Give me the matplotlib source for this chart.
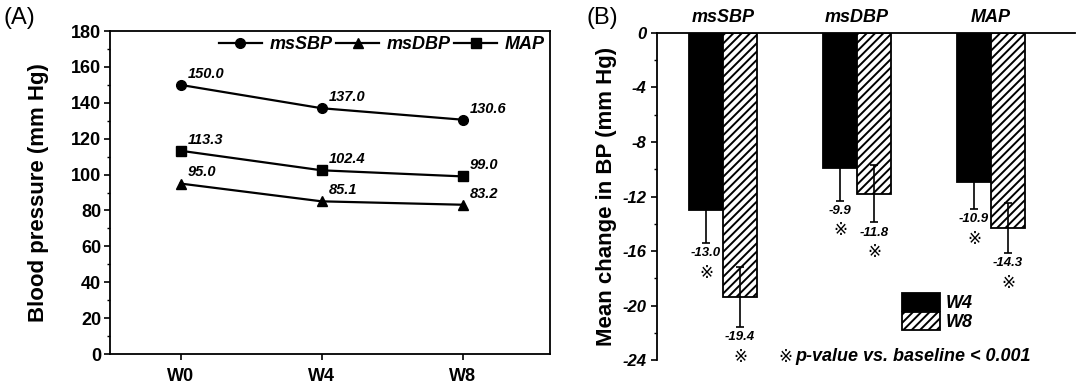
import numpy as np
import matplotlib
matplotlib.use('Agg')
import matplotlib.pyplot as plt
from matplotlib.patches import Patch
from matplotlib.ticker import MultipleLocator

plt.rcParams['font.family'] = ['Liberation Sans', 'DejaVu Sans']
plt.rcParams['hatch.linewidth'] = 1.4

# panel A data
weeks = ['W0', 'W4', 'W8']
ms_sbp = [150.0, 137.0, 130.6]
ms_dbp = [95.0, 85.1, 83.2]
map_bp = [113.3, 102.4, 99.0]

# panel B data
groups = ['msSBP', 'msDBP', 'MAP']
chg_w4 = [-13.0, -9.9, -10.9]
chg_w8 = [-19.4, -11.8, -14.3]
err_w4 = [2.4, 2.4, 2.0]
err_w8 = [2.2, 2.1, 1.85]

fig = plt.figure(figsize=(10.8, 3.9), dpi=100)

# ---------- panel A ----------
ax1 = fig.add_axes([0.1019, 0.0923, 0.4074, 0.828])
x = np.arange(len(weeks))
series = [(ms_sbp, 'o', 'msSBP'), (ms_dbp, '^', 'msDBP'), (map_bp, 's', 'MAP')]
for vals, mk, name in series:
    ax1.plot(x, vals, color='black', lw=1.6, marker=mk, ms=7, label=name)
    for xi, v in zip(x, vals):
        ax1.annotate(f'{v:.1f}', (xi, v), xytext=(5, 3), textcoords='offset points',
                     ha='left', va='bottom', fontsize=10.5, fontweight='bold', style='italic')

ax1.set_xlim(-0.5, 2.62)
ax1.set_ylim(0, 180)
ax1.set_xticks(x)
ax1.set_xticklabels(weeks, fontsize=13, fontweight='bold')
ax1.yaxis.set_major_locator(MultipleLocator(20))
ax1.yaxis.set_minor_locator(MultipleLocator(10))
ax1.tick_params(axis='y', which='major', length=4.5, width=1.2, labelsize=13, pad=2)
ax1.tick_params(axis='y', which='minor', length=2.5, width=1.0)
ax1.tick_params(axis='x', length=4, width=1.2, pad=6)
for lab in ax1.get_yticklabels():
    lab.set_fontweight('bold')
for sp in ax1.spines.values():
    sp.set_linewidth(1.3)
ax1.set_ylabel('Blood pressure (mm Hg)', fontsize=16, fontweight='bold', labelpad=16)
ax1.legend(loc='upper right', bbox_to_anchor=(1.0, 1.0), ncol=3, frameon=False,
           prop={'size': 13, 'weight': 'bold', 'style': 'italic'},
           handlelength=2.4, handletextpad=0.4, columnspacing=0.2, borderpad=0.2,
           borderaxespad=0.1)
fig.text(0.003, 0.955, '(A)', fontsize=17, ha='left', va='center')

# ---------- panel B ----------
ax2 = fig.add_axes([0.6083, 0.0769, 0.387, 0.8385])
gx = np.arange(len(groups))
w = 0.254
ax2.bar(gx - w / 2, chg_w4, w, color='black', edgecolor='black', lw=1.3, zorder=2)
ax2.bar(gx + w / 2, chg_w8, w, color='white', edgecolor='black', hatch='////', lw=1.3, zorder=2)
ax2.errorbar(gx - w / 2, chg_w4, yerr=err_w4, fmt='none', ecolor='black', elinewidth=1.2,
             capsize=3, capthick=1.2, zorder=3)
ax2.errorbar(gx + w / 2, chg_w8, yerr=err_w8, fmt='none', ecolor='black', elinewidth=1.2,
             capsize=3, capthick=1.2, zorder=3)

for xs, vals, errs in [(gx - w / 2, chg_w4, err_w4), (gx + w / 2, chg_w8, err_w8)]:
    for xi, v, e in zip(xs, vals, errs):
        ax2.annotate(f'{v:.1f}', (xi, v - e), xytext=(0, -3), textcoords='offset points',
                     ha='center', va='top', fontsize=9.5, fontweight='bold', style='italic')
        ax2.annotate('\u203b', (xi, v - e), xytext=(0, -15), textcoords='offset points',
                     ha='center', va='top', fontsize=12, family=['DejaVu Sans', 'Noto Sans CJK JP'])

ax2.set_xlim(-0.4925, 2.627)
ax2.set_ylim(-24, 0)
ax2.yaxis.set_major_locator(MultipleLocator(4))
ax2.yaxis.set_minor_locator(MultipleLocator(2))
ax2.set_yticks(np.arange(-24, 1, 4))
ax2.set_yticklabels([str(v) for v in range(-24, 1, 4)], fontsize=12, fontweight='bold', style='italic')
ax2.tick_params(axis='y', which='major', length=4.5, width=1.2, pad=3)
ax2.tick_params(axis='y', which='minor', length=2.5, width=1.0)
ax2.xaxis.tick_top()
ax2.set_xticks(gx)
ax2.set_xticklabels(groups, fontsize=13, fontweight='bold', style='italic')
ax2.tick_params(axis='x', length=0, pad=5)
ax2.spines['right'].set_visible(False)
ax2.spines['bottom'].set_visible(False)
ax2.spines['top'].set_linewidth(1.3)
ax2.spines['left'].set_linewidth(1.3)
ax2.set_ylabel('Mean change in BP (mm Hg)', fontsize=16, fontweight='bold', labelpad=4)

handles = [Patch(facecolor='black', edgecolor='black', lw=1.3, label='W4'),
           Patch(facecolor='white', edgecolor='black', hatch='////', lw=1.3, label='W8')]
ax2.legend(handles=handles, loc='upper left', bbox_to_anchor=(0.586, 0.205), frameon=False,
           prop={'size': 13, 'weight': 'bold', 'style': 'italic'},
           handlelength=2.1, handleheight=1.15, handletextpad=0.3, labelspacing=0.0,
           borderpad=0.0, borderaxespad=0.0)
ax2.text(0.29, 0.01, '\u203b', transform=ax2.transAxes, fontsize=12, ha='left', va='center',
         family=['DejaVu Sans', 'Noto Sans CJK JP'])
ax2.text(0.33, 0.01, 'p-value vs. baseline < 0.001', transform=ax2.transAxes,
         fontsize=13, fontweight='bold', style='italic', ha='left', va='center')
fig.text(0.543, 0.955, '(B)', fontsize=17, ha='left', va='center')

fig.savefig('out.png', dpi=100)
